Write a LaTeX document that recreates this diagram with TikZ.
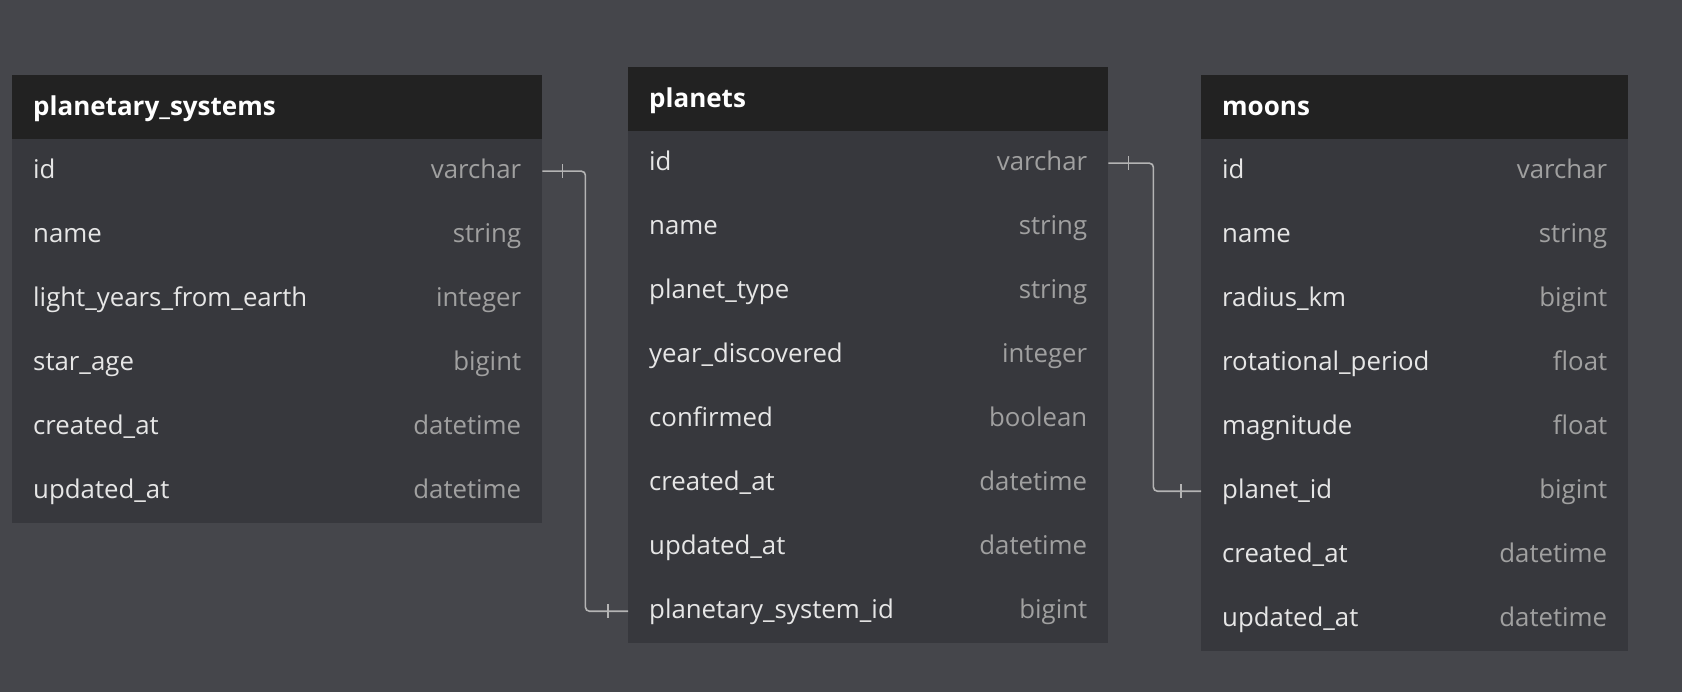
\documentclass[tikz,border=0pt]{standalone}
\usepackage{fontspec}
\setmainfont{Open Sans}
\begin{document}
\begin{tikzpicture}[x=1pt, y=-1pt,
    head/.style={anchor=north west, fill=headbg, minimum height=64pt, inner sep=0pt},
    row/.style={anchor=north west, fill=rowbg, minimum height=64pt, inner sep=0pt},
    title/.style={anchor=base west, inner sep=0pt, text=white, font=\fontsize{26}{30}\selectfont\bfseries},
    fname/.style={anchor=base west, inner sep=0pt, text=namecol, font=\fontsize{25.8}{30}\selectfont},
    ftype/.style={anchor=base east, inner sep=0pt, text=typecol, font=\fontsize{25.8}{30}\selectfont},
    link/.style={draw=linkcol, line width=1.6pt, rounded corners=4pt},
    tick/.style={draw=linkcol, line width=1.6pt}]
    \definecolor{bgcol}{HTML}{45464B}
    \definecolor{headbg}{HTML}{222222}
    \definecolor{rowbg}{HTML}{37383D}
    \definecolor{namecol}{HTML}{E6E6E6}
    \definecolor{typecol}{HTML}{A0A0A0}
    \definecolor{linkcol}{HTML}{B4B4B4}
    \fill[bgcol] (0,0) rectangle (1682,692);
    \useasboundingbox (0,0) rectangle (1682,692);
    \node[head, minimum width=530pt] (ps) at (12,75) {};
    \node[title] (ps-t) at ([xshift=21pt, yshift=-8pt]ps.west) {planetary\_systems};
    \foreach \n/\t [count=\i] in {id/varchar, name/string, light\_years\_from\_earth/integer,
        star\_age/bigint, created\_at/datetime, updated\_at/datetime} {
        \node[row, minimum width=530pt] (ps\i) at (12,{139+(\i-1)*64}) {};
        \node[fname] (ps\i-n) at ([xshift=21pt, yshift=-7pt]ps\i.west) {\n};
        \node[ftype] (ps\i-t) at ([xshift=-21pt, yshift=-7pt]ps\i.east) {\t};
    }
    \node[head, minimum width=480pt] (pl) at (628,67) {};
    \node[title] (pl-t) at ([xshift=21pt, yshift=-8pt]pl.west) {planets};
    \foreach \n/\t [count=\i] in {id/varchar, name/string, planet\_type/string,
        year\_discovered/integer, confirmed/boolean, created\_at/datetime,
        updated\_at/datetime, planetary\_system\_id/bigint} {
        \node[row, minimum width=480pt] (pl\i) at (628,{131+(\i-1)*64}) {};
        \node[fname] (pl\i-n) at ([xshift=21pt, yshift=-7pt]pl\i.west) {\n};
        \node[ftype] (pl\i-t) at ([xshift=-21pt, yshift=-7pt]pl\i.east) {\t};
    }
    \node[head, minimum width=427pt] (mo) at (1201,75) {};
    \node[title] (mo-t) at ([xshift=21pt, yshift=-8pt]mo.west) {moons};
    \foreach \n/\t [count=\i] in {id/varchar, name/string, radius\_km/bigint,
        rotational\_period/float, magnitude/float, planet\_id/bigint,
        created\_at/datetime, updated\_at/datetime} {
        \node[row, minimum width=427pt] (mo\i) at (1201,{139+(\i-1)*64}) {};
        \node[fname] (mo\i-n) at ([xshift=21pt, yshift=-7pt]mo\i.west) {\n};
        \node[ftype] (mo\i-t) at ([xshift=-21pt, yshift=-7pt]mo\i.east) {\t};
    }
    \draw[link] (ps1.east) -- ++(43,0) |- (pl8.west);
    \draw[tick] ([xshift=20pt, yshift=7pt]ps1.east) -- ([xshift=20pt, yshift=-7pt]ps1.east);
    \draw[tick] ([xshift=-20pt, yshift=7pt]pl8.west) -- ([xshift=-20pt, yshift=-7pt]pl8.west);
    \draw[link] (pl1.east) -- ++(45,0) |- (mo6.west);
    \draw[tick] ([xshift=20pt, yshift=7pt]pl1.east) -- ([xshift=20pt, yshift=-7pt]pl1.east);
    \draw[tick] ([xshift=-20pt, yshift=7pt]mo6.west) -- ([xshift=-20pt, yshift=-7pt]mo6.west);
\end{tikzpicture}
\end{document}
